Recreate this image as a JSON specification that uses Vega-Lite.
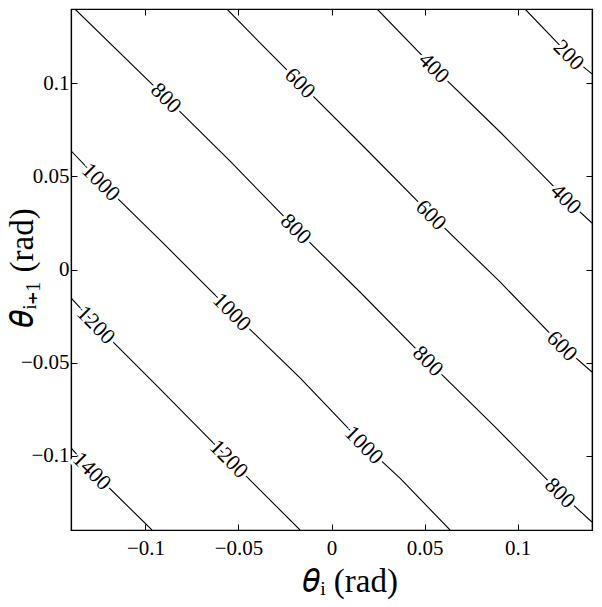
{
  "$schema": "https://vega.github.io/schema/vega-lite/v6.json",
  "width": 521,
  "height": 521,
  "autosize": {"type": "none"},
  "padding": {"left": 71, "top": 9, "right": 10, "bottom": 77},
  "background": "white",
  "config": {
    "view": {"stroke": "black", "strokeWidth": 1.2},
    "axis": {
      "labelFont": "Liberation Serif", "labelFontSize": 21, "labelColor": "black",
      "titleFont": "Liberation Serif", "titleFontSize": 33, "titleFontWeight": "normal", "titleColor": "black",
      "tickColor": "black", "tickSize": -6, "tickWidth": 1, "domainColor": "black", "domainWidth": 1.2,
      "grid": false, "zindex": 1, "labelPadding": 8, "labelOverlap": false, "labelFlush": false
    }
  },
  "datasets": {
    "lines": [
      {"level": 200, "seq": 1, "x": 0.1040, "y": 0.1400},
      {"level": 200, "seq": 2, "x": 0.1276, "y": 0.1153},
      {"level": 200, "seq": 3, "x": 0.1400, "y": 0.1051},
      {"level": 400, "seq": 1, "x": 0.0245, "y": 0.1400},
      {"level": 400, "seq": 2, "x": 0.0551, "y": 0.1083},
      {"level": 400, "seq": 3, "x": 0.0906, "y": 0.0739},
      {"level": 400, "seq": 4, "x": 0.1260, "y": 0.0379},
      {"level": 400, "seq": 5, "x": 0.1400, "y": 0.0250},
      {"level": 600, "seq": 1, "x": -0.0562, "y": 0.1400},
      {"level": 600, "seq": 2, "x": -0.0363, "y": 0.1196},
      {"level": 600, "seq": 3, "x": -0.0169, "y": 0.1002},
      {"level": 600, "seq": 4, "x": 0.0180, "y": 0.0653},
      {"level": 600, "seq": 5, "x": 0.0535, "y": 0.0293},
      {"level": 600, "seq": 6, "x": 0.0906, "y": -0.0067},
      {"level": 600, "seq": 7, "x": 0.1239, "y": -0.0411},
      {"level": 600, "seq": 8, "x": 0.1400, "y": -0.0551},
      {"level": 800, "seq": 1, "x": -0.1379, "y": 0.1400},
      {"level": 800, "seq": 2, "x": -0.0889, "y": 0.0922},
      {"level": 800, "seq": 3, "x": -0.0545, "y": 0.0583},
      {"level": 800, "seq": 4, "x": -0.0191, "y": 0.0218},
      {"level": 800, "seq": 5, "x": 0.0153, "y": -0.0121},
      {"level": 800, "seq": 6, "x": 0.0519, "y": -0.0492},
      {"level": 800, "seq": 7, "x": 0.0879, "y": -0.0846},
      {"level": 800, "seq": 8, "x": 0.1228, "y": -0.1201},
      {"level": 800, "seq": 9, "x": 0.1400, "y": -0.1357},
      {"level": 1000, "seq": 1, "x": -0.1400, "y": 0.0638},
      {"level": 1000, "seq": 2, "x": -0.1239, "y": 0.0470},
      {"level": 1000, "seq": 3, "x": -0.0895, "y": 0.0132},
      {"level": 1000, "seq": 4, "x": -0.0535, "y": -0.0228},
      {"level": 1000, "seq": 5, "x": -0.0169, "y": -0.0583},
      {"level": 1000, "seq": 6, "x": 0.0175, "y": -0.0943},
      {"level": 1000, "seq": 7, "x": 0.0368, "y": -0.1121},
      {"level": 1000, "seq": 8, "x": 0.0637, "y": -0.1400},
      {"level": 1200, "seq": 1, "x": -0.1400, "y": -0.0153},
      {"level": 1200, "seq": 2, "x": -0.1266, "y": -0.0298},
      {"level": 1200, "seq": 3, "x": -0.0922, "y": -0.0642},
      {"level": 1200, "seq": 4, "x": -0.0551, "y": -0.1018},
      {"level": 1200, "seq": 5, "x": -0.0169, "y": -0.1400},
      {"level": 1400, "seq": 1, "x": -0.1400, "y": -0.0959},
      {"level": 1400, "seq": 2, "x": -0.1287, "y": -0.1083},
      {"level": 1400, "seq": 3, "x": -0.0965, "y": -0.1400}
    ],
    "labels": [
      {"label": "200", "x": 0.1276, "y": 0.1153},
      {"label": "400", "x": 0.0551, "y": 0.1083},
      {"label": "400", "x": 0.1260, "y": 0.0379},
      {"label": "600", "x": -0.0169, "y": 0.1002},
      {"label": "600", "x": 0.0535, "y": 0.0293},
      {"label": "600", "x": 0.1239, "y": -0.0411},
      {"label": "800", "x": -0.0889, "y": 0.0922},
      {"label": "800", "x": -0.0191, "y": 0.0218},
      {"label": "800", "x": 0.0519, "y": -0.0492},
      {"label": "800", "x": 0.1228, "y": -0.1201},
      {"label": "1000", "x": -0.1239, "y": 0.0470},
      {"label": "1000", "x": -0.0535, "y": -0.0228},
      {"label": "1000", "x": 0.0175, "y": -0.0943},
      {"label": "1200", "x": -0.1266, "y": -0.0298},
      {"label": "1200", "x": -0.0551, "y": -0.1018},
      {"label": "1400", "x": -0.1287, "y": -0.1083}
    ]
  },
  "resolve": {"axis": {"x": "independent", "y": "independent"}},
  "layer": [
    {
      "data": {"name": "lines"},
      "mark": {"type": "line", "color": "black", "strokeWidth": 1.1, "clip": true},
      "encoding": {
        "x": {"field": "x", "type": "quantitative", "scale": {"domain": [-0.14, 0.14], "nice": false, "zero": false},
              "axis": {"orient": "bottom", "values": [-0.1, -0.05, 0, 0.05, 0.1], "format": "~g", "labelPadding": 13, "title": "𝜃ᵢ (rad)", "titleX": 279, "titleY": 35, "titleBaseline": "top"}},
        "y": {"field": "y", "type": "quantitative", "scale": {"domain": [-0.14, 0.14], "nice": false, "zero": false},
              "axis": {"orient": "left", "values": [-0.1, -0.05, 0, 0.05, 0.1], "format": "~g", "title": "𝜃ᵢ₊₁ (rad)", "titleX": -32, "titleY": 258, "titleBaseline": "bottom"}},
        "detail": {"field": "level", "type": "nominal"},
        "order": {"field": "seq", "type": "quantitative"}
      }
    },
    {
      "data": {"name": "labels"},
      "mark": {"type": "text", "font": "Liberation Serif", "fontSize": 22, "angle": 45, "align": "center", "baseline": "middle", "fill": "white", "stroke": "white", "strokeWidth": 6},
      "encoding": {
        "x": {"field": "x", "type": "quantitative", "axis": {"orient": "top", "values": [-0.1, -0.05, 0, 0.05, 0.1], "labels": false, "title": null}},
        "y": {"field": "y", "type": "quantitative", "axis": {"orient": "right", "values": [-0.1, -0.05, 0, 0.05, 0.1], "labels": false, "title": null}},
        "text": {"field": "label", "type": "nominal"}
      }
    },
    {
      "data": {"name": "labels"},
      "mark": {"type": "text", "font": "Liberation Serif", "fontSize": 22, "angle": 45, "align": "center", "baseline": "middle", "fill": "black"},
      "encoding": {
        "x": {"field": "x", "type": "quantitative", "axis": null},
        "y": {"field": "y", "type": "quantitative", "axis": null},
        "text": {"field": "label", "type": "nominal"}
      }
    }
  ]
}
